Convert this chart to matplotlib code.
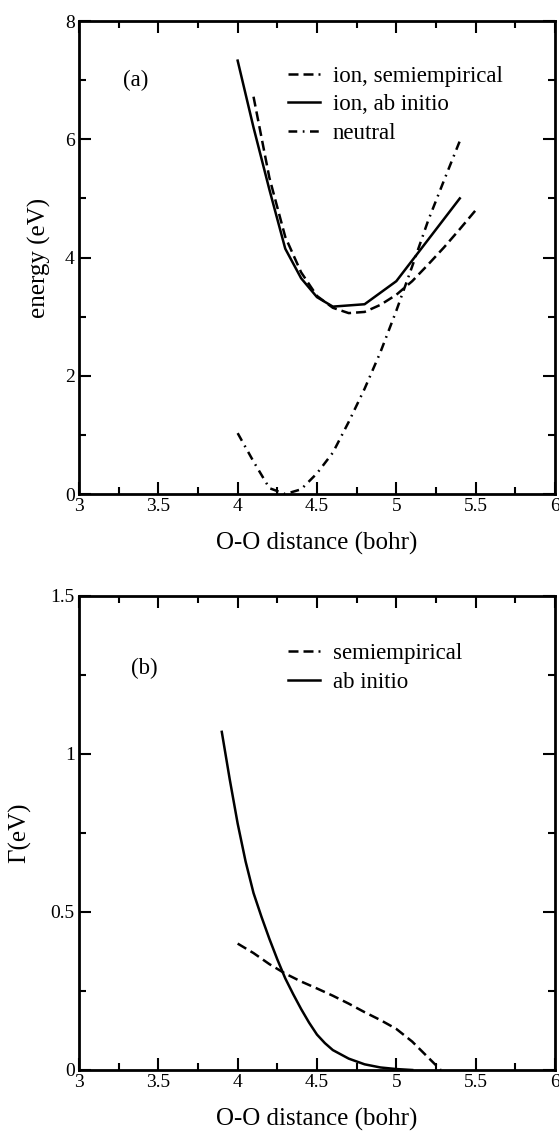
import numpy as np
import matplotlib
matplotlib.use('Agg')
import matplotlib.pyplot as plt
from matplotlib.ticker import MultipleLocator

plt.rcParams['font.family'] = ['Liberation Serif', 'DejaVu Serif']

# panel (a): energy curves
x_semi_a = [4.1, 4.2, 4.3, 4.4, 4.5, 4.6, 4.7, 4.8, 4.9, 5.0, 5.1, 5.2, 5.3, 5.4, 5.5]
y_semi_a = [6.72, 5.35, 4.35, 3.75, 3.35, 3.15, 3.06, 3.08, 3.2, 3.37, 3.6, 3.88, 4.17, 4.48, 4.8]
x_abin_a = [4.0, 4.1, 4.2, 4.3, 4.4, 4.5, 4.6, 4.8, 5.0, 5.2, 5.4]
y_abin_a = [7.33, 6.2, 5.15, 4.15, 3.65, 3.33, 3.17, 3.21, 3.6, 4.3, 5.0]
x_neut = [4.0, 4.1, 4.2, 4.3, 4.4, 4.5, 4.6, 4.7, 4.8, 4.9, 5.0, 5.1, 5.2, 5.3, 5.4]
y_neut = [1.03, 0.55, 0.1, 0.0, 0.08, 0.35, 0.7, 1.22, 1.78, 2.4, 3.1, 3.85, 4.62, 5.3, 5.97]

# panel (b): widths
x_semi_b = [4.0, 4.1, 4.2, 4.3, 4.4, 4.5, 4.6, 4.7, 4.8, 4.9, 5.0, 5.1, 5.2, 5.28]
y_semi_b = [0.40, 0.37, 0.335, 0.305, 0.28, 0.258, 0.235, 0.21, 0.183, 0.158, 0.13, 0.09, 0.04, 0.0]
x_abin_b = [3.9, 3.95, 4.0, 4.05, 4.1, 4.15, 4.2, 4.25, 4.3, 4.35, 4.4, 4.45, 4.5, 4.55,
            4.6, 4.7, 4.8, 4.9, 5.0, 5.1]
y_abin_b = [1.07, 0.92, 0.78, 0.66, 0.56, 0.485, 0.415, 0.35, 0.29, 0.24, 0.193, 0.15, 0.112, 0.085,
            0.063, 0.036, 0.018, 0.008, 0.003, 0.0]

lw = 1.8
dash = (4, 2)
dashdot = (3.5, 2.2, 0.7, 2.2)

fig = plt.figure(figsize=(5.59, 11.36), dpi=100)
ax1 = fig.add_axes([0.1413, 0.5651, 0.8515, 0.4164])
ax2 = fig.add_axes([0.1413, 0.0581, 0.8515, 0.4173])


def style(ax, ymax, ymaj, ymin):
    ax.set_xlim(3, 6)
    ax.set_ylim(0, ymax)
    ax.xaxis.set_major_locator(MultipleLocator(0.5))
    ax.xaxis.set_minor_locator(MultipleLocator(0.25))
    ax.yaxis.set_major_locator(MultipleLocator(ymaj))
    ax.yaxis.set_minor_locator(MultipleLocator(ymin))
    ax.tick_params(which='both', direction='in', top=True, right=True, width=1.5, labelsize=14, pad=3)
    ax.tick_params(which='major', length=8.5)
    ax.tick_params(which='minor', length=5)
    for s in ax.spines.values():
        s.set_linewidth(2)
    ax.set_xlabel('O-O distance (bohr)', fontsize=18, labelpad=12)
    ax.xaxis.set_major_formatter(plt.FuncFormatter(lambda v, p: ('%g' % v)))
    ax.yaxis.set_major_formatter(plt.FuncFormatter(lambda v, p: ('%g' % v)))


ax1.plot(x_semi_a, y_semi_a, color='k', lw=lw, dashes=dash, label='ion, semiempirical')
ax1.plot(x_abin_a, y_abin_a, color='k', lw=lw, label='ion, ab initio')
ax1.plot(x_neut, y_neut, color='k', lw=lw, dashes=dashdot, label='neutral')
style(ax1, 8, 2, 1)
ax1.set_ylabel('energy (eV)', fontsize=18, labelpad=10)
ax1.text(3.36, 7.0, '(a)', fontsize=16.5, ha='center', va='center')
ax1.legend(loc='upper left', bbox_to_anchor=(0.415, 0.93), frameon=False, fontsize=16.5,
           handlelength=1.4, handletextpad=0.55, labelspacing=0.33, borderpad=0)

ax2.plot(x_semi_b, y_semi_b, color='k', lw=lw, dashes=dash, label='semiempirical')
ax2.plot(x_abin_b, y_abin_b, color='k', lw=lw, label='ab initio')
style(ax2, 1.5, 0.5, 0.25)
ax2.set_ylabel('Γ(eV)', fontsize=18, labelpad=14)
ax2.text(3.41, 1.27, '(b)', fontsize=16.5, ha='center', va='center')
ax2.legend(loc='upper left', bbox_to_anchor=(0.415, 0.925), frameon=False, fontsize=16.5,
           handlelength=1.4, handletextpad=0.55, labelspacing=0.33, borderpad=0)

plt.savefig('out.png', dpi=100)
